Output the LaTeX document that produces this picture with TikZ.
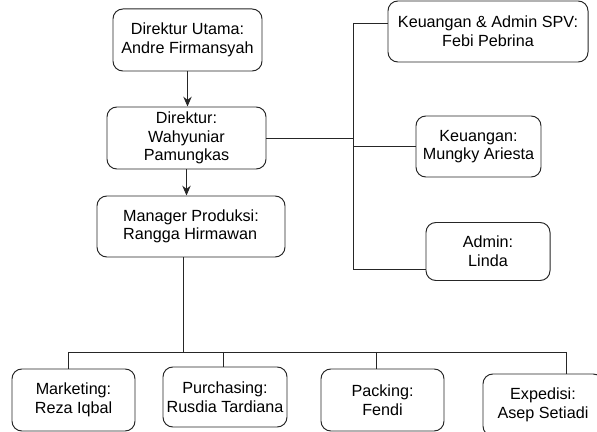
\documentclass[tikz,border=0pt]{standalone}
\usepackage{fontspec}
\setmainfont{Liberation Sans}
\usetikzlibrary{arrows.meta}
\begin{document}
\begin{tikzpicture}[>={Stealth[length=7pt,width=6pt]},draw=black!85,line width=0.7pt]
	\fontsize{11.5}{13.2}\selectfont
	\def \attic{9.8cm}
	\def \rowtwoht{7.35cm}
	\def \rowoneht{5.1375cm}
	\def \busx{8.825cm}
	\def \splitht{2.0cm}
	\def \basement{0.8cm}

	\useasboundingbox (0,0) rectangle (14.925,10.8);

	\tikzstyle{p-node}=[rectangle,rounded corners=7pt,draw=black!85,line width=0.7pt,align=center,inner sep=2pt,minimum height=1.55cm]
	\tikzstyle{s-node}=[p-node,minimum width=3.1cm]
	\tikzstyle{line}=[draw=black!85,line width=0.7pt]

	% direksi
	\node[p-node,minimum width=3.725cm]	(utama)	at (4.6875cm,\attic)	{Direktur Utama:\\Andre Firmansyah};
	\node[p-node,minimum width=3.975cm]	(direktur)	at (4.6625cm,\rowtwoht)	{Direktur:\\Wahyuniar\\Pamungkas};
	\node[p-node,minimum width=4.7cm,minimum height=1.525cm,align=left]	(manager)	at (4.775cm,\rowoneht)	{Manager Produksi:\\Rangga Hirmawan};

	% keuangan
	\node[p-node,minimum width=5.0cm,minimum height=1.525cm]	(spv)	at (12.2cm,10.0125cm)	{Keuangan \& Admin SPV:\\Febi Pebrina};
	\node[p-node,minimum width=3.125cm,minimum height=1.525cm]	(keuangan)	at (11.9625cm,7.1375cm)	{Keuangan:\\Mungky Ariesta};
	\node[p-node,minimum width=3.1cm,minimum height=1.45cm]	(admin)	at (12.2cm,4.5125cm)	{Admin:\\Linda};

	% produksi
	\node[s-node,minimum width=3.075cm]	(marketing)	at (1.8375cm,\basement)	{Marketing:\\Reza Iqbal};
	\node[s-node,minimum height=1.5cm]	(purchasing)	at (5.625cm,0.875cm)	{Purchasing:\\Rusdia Tardiana};
	\node[s-node,minimum width=3.075cm]	(packing)	at (9.5625cm,\basement)	{Packing:\\Fendi};
	\node[s-node,minimum width=3.0cm]	(expedisi)	at (13.575cm,0.675cm)	{Expedisi:\\Asep Setiadi};

	\coordinate (bustop)	at (\busx,10.225cm);
	\coordinate (busbot)	at (\busx,4.075cm);
	\coordinate (split)	at (4.575cm,\splitht);
	\coordinate (dm)	at (1.7cm,\splitht);
	\coordinate (dp)	at (5.575cm,\splitht);
	\coordinate (dk)	at (9.4cm,\splitht);
	\coordinate (de)	at (14.15cm,\splitht);

	\draw[->] (utama.south) -- (utama.south |- direktur.north);
	\draw[->] (direktur.south) -- (direktur.south |- manager.north);

	\draw[line] (direktur.east) -- (direktur.east -| bustop);
	\draw[line] (bustop) -- (busbot);
	\draw[line] (bustop) -- (bustop -| spv.west);
	\draw[line] (keuangan.west -| bustop) -- (keuangan.west);
	\draw[line] (busbot) -- (busbot -| admin.west);

	\draw[line] (split |- manager.south) -- (split);
	\draw[line] (dm) -- (de);
	\draw[line] (dm) -- (dm |- marketing.north);
	\draw[line] (dp) -- (dp |- purchasing.north);
	\draw[line] (dk) -- (dk |- packing.north);
	\draw[line] (de) -- (de |- expedisi.north);
\end{tikzpicture}
\end{document}
